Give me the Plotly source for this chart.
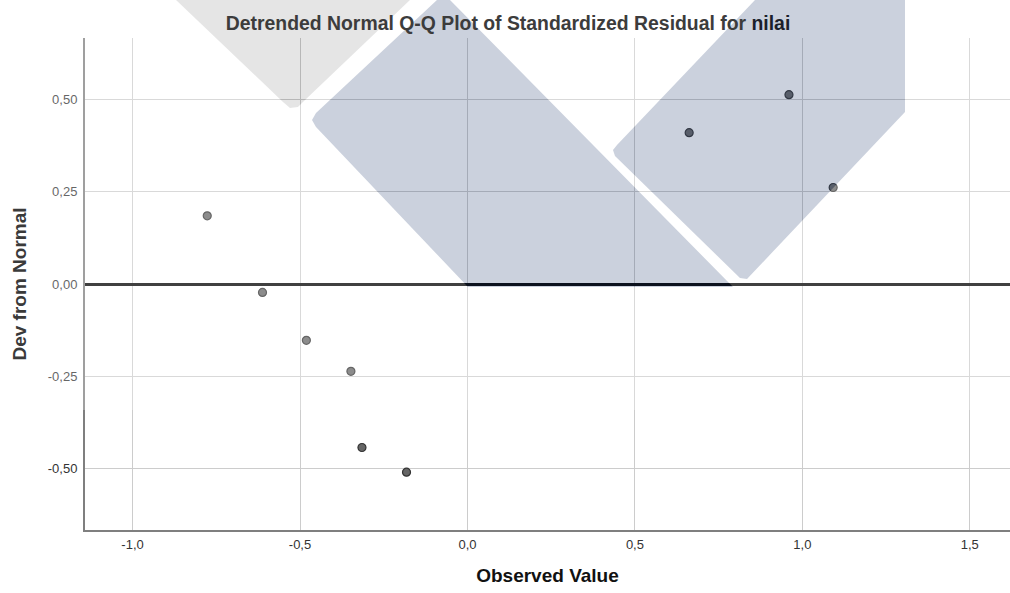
import plotly.graph_objects as go

# ---------------- data ----------------
observed_value = [-0.777, -0.612, -0.481, -0.348, -0.315, -0.182, 0.662, 0.960, 1.092]
dev_from_normal = [0.185, -0.023, -0.153, -0.237, -0.444, -0.511, 0.411, 0.514, 0.262]

x_tick_vals = [-1.0, -0.5, 0.0, 0.5, 1.0, 1.5]
x_tick_text = ["-1,0", "-0,5", "0,0", "0,5", "1,0", "1,5"]
y_tick_vals = [-0.50, -0.25, 0.0, 0.25, 0.50]
y_tick_text = ["-0,50", "-0,25", "0,00", "0,25", "0,50"]

title_main = "Detrended Normal Q-Q Plot of Standardized Residual for "
title_var = "nilai"
x_title = "Observed Value"
y_title = "Dev from Normal"

# ---------------- layout geometry ----------------
W, H = 1010, 593
ML, MR, MT, MB = 85, 0, 38, 63
PW = W - ML - MR
PH = H - MT - MB
FONT = "Liberation Sans, Arial, sans-serif"


def to_paper(pts):
    return [((x - ML) / PW, (H - MB - y) / PH) for x, y in pts]


def path_of(pts):
    p = to_paper(pts)
    s = "M %.5f,%.5f " % p[0]
    for x, y in p[1:]:
        s += "L %.5f,%.5f " % (x, y)
    return s + "Z "


# decorative watermark outlines (pixel space, not data)
wm_grey = [(176, 0), (283, 102), (290, 108), (298, 107), (304, 101), (410, 0)]
wm_blue1 = [(437, 0), (450, 0), (733, 287), (468, 287), (316, 127), (312, 120), (316, 113)]
wm_blue2 = [(755, 0), (905, 0), (905, 112), (747, 279), (740, 278), (615, 156), (613, 150), (617, 145)]
wm_box = [(0, 0), (W, 0), (W, 410), (0, 410)]

fig = go.Figure()
fig.add_trace(go.Scatter(
    x=observed_value, y=dev_from_normal, mode="markers",
    marker=dict(size=8, color="#666666", line=dict(color="#333333", width=1.2)),
    hoverinfo="x+y", showlegend=False,
))

shapes = [
    # white translucent box of the watermark with holes for the logo
    dict(type="path", xref="paper", yref="paper", layer="above",
         path=path_of(wm_box) + path_of(wm_grey) + path_of(wm_blue1) + path_of(wm_blue2),
         fillcolor="rgba(255,255,255,0.25)", line=dict(width=0), fillrule="evenodd"),
    dict(type="path", xref="paper", yref="paper", layer="above",
         path=path_of(wm_grey), fillcolor="rgba(0,0,0,0.10)", line=dict(width=0)),
    dict(type="path", xref="paper", yref="paper", layer="above",
         path=path_of(wm_blue1) + path_of(wm_blue2),
         fillcolor="rgba(47,71,121,0.25)", line=dict(width=0)),
]

fig.update_layout(
    width=W, height=H,
    margin=dict(l=ML, r=MR, t=MT, b=MB, pad=0, autoexpand=False),
    paper_bgcolor="white", plot_bgcolor="white",
    font=dict(family=FONT, color="#333333", size=13),
    title=dict(text=title_main + "<span style='color:#1b1f2b'>" + title_var + "</span>",
               x=0.503, xref="container", xanchor="center",
               y=1 - 23 / H, yref="container", yanchor="middle", automargin=False,
               font=dict(family=FONT, size=19.4, color="#3c3c3c", weight="bold")),
    shapes=shapes,
    showlegend=False,
)

fig.update_xaxes(
    range=[-1.142, 1.620], tickmode="array", tickvals=x_tick_vals, ticktext=x_tick_text,
    showgrid=True, gridcolor="#cccccc", gridwidth=1, zeroline=False, automargin=False,
    showline=True, linecolor="#7f7f7f", linewidth=2, ticks="", ticklabelstandoff=1,
    tickfont=dict(size=13, color="#333333"),
    title=dict(text=x_title, standoff=18, font=dict(size=19, color="#111111", weight="bold")),
)
fig.update_yaxes(
    range=[-0.668, 0.668], tickmode="array", tickvals=y_tick_vals, ticktext=y_tick_text,
    showgrid=True, gridcolor="#cccccc", gridwidth=1, automargin=False,
    zeroline=True, zerolinecolor="#000000", zerolinewidth=3,
    showline=True, linecolor="#7f7f7f", linewidth=2, ticks="", ticklabelstandoff=3,
    tickfont=dict(size=13, color="#333333"),
    title=dict(text=y_title, standoff=16, font=dict(size=19, color="#3a3a3a", weight="bold")),
)

fig.write_html("out.html", config={"displayModeBar": False},
               post_script="document.body.style.margin='0';")
